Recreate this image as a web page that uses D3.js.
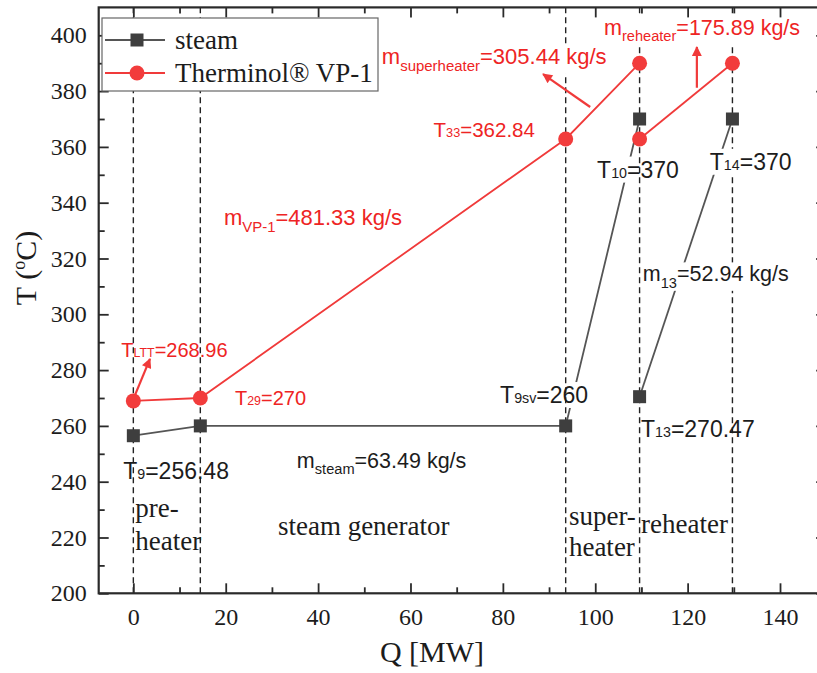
<!DOCTYPE html>
<html>
<head>
<meta charset="utf-8">
<script src="https://cdn.jsdelivr.net/npm/d3@7"></script>
<style>
  body { margin: 0; background: #fff; }
  svg { display: block; }
</style>
</head>
<body>
<div id="chart"></div>
<script>
// data
var steamQ = [0, 14.5, 93.6, 109.6];
var steamT = [256.48, 260, 260, 370];
var steam2Q = [109.6, 129.7];
var steam2T = [270.47, 370];

var vpQ = [0, 14.5, 93.6, 109.6];
var vpT = [268.96, 270, 362.84, 390];
var vp2Q = [109.6, 129.7];
var vp2T = [362.84, 390];

var stageQ = [0, 14.5, 93.6, 109.6, 129.7];

var xMajor = [0, 20, 40, 60, 80, 100, 120, 140];
var xMinor = [10, 30, 50, 70, 90, 110, 130, 150];
var yMajor = [200, 220, 240, 260, 280, 300, 320, 340, 360, 380, 400];
var yMinor = [210, 230, 250, 270, 290, 310, 330, 350, 370, 390];

var red = "#f03a3a";
var redText = "#ee2424";
var grey = "#555";
var dark = "#1c1c1c";

// annotations: [x, y (baseline), main, sub, rest, colour, size, sub lowered?, background layer]
var notes = [
    [-2.6, 284.8, "T", "LTT", "=268.96", redText, 20, false, null],
    [22.0, 267.6, "T", "29", "=270", redText, 20, false, null],
    [65.0, 363.4, "T", "33", "=362.84", redText, 20.5, false, null],
    [19.6, 332.0, "m", "VP-1", "=481.33 kg/s", redText, 22, true, null],
    [53.8, 389.6, "m", "superheater", "=305.44 kg/s", redText, 22, true, "over"],
    [101.9, 400.2, "m", "reheater", "=175.89 kg/s", redText, 21.5, true, "over"],
    [-2.2, 240.8, "T", "9", "=256.48", dark, 23, false, null],
    [35.4, 245.0, "m", "steam", "=63.49 kg/s", dark, 21.5, true, null],
    [79.4, 268.2, "T", "9sv", "=260", dark, 23, false, "under"],
    [100.4, 349.0, "T", "10", "=370", dark, 23, false, "under"],
    [109.9, 256.0, "T", "13", "=270.47", dark, 23, false, null],
    [124.8, 351.8, "T", "14", "=370", dark, 23, false, "over"],
    [110.3, 311.8, "m", "13", "=52.94 kg/s", dark, 21.5, true, "over"]
];

var regions = [
    [0.4, 227.3, "pre-"],
    [0.4, 215.6, "heater"],
    [31.3, 221.0, "steam generator"],
    [94.3, 224.6, "super-"],
    [94.3, 213.4, "heater"],
    [109.9, 221.7, "reheater"]
];

// arrows: [x0, y0, x1, y1]
var arrows = [
    [0.4, 271.2, 3.6, 284.0],
    [98.9, 374.3, 88.7, 386.1],
    [122.0, 381.2, 122.0, 395.8]
];

var svgWidth = 817;
var svgHeight = 673;

var svg = d3.select("#chart")
    .append("svg")
    .attr("width", svgWidth)
    .attr("height", svgHeight);

var xScale = d3.scaleLinear().domain([-7.5, 150]).range([98.7, 826.2]);
var yScale = d3.scaleLinear().domain([200, 410]).range([593.3, 7.4]);

var serif = "'Liberation Serif', 'Times New Roman', serif";
var sans = "'Liberation Sans', Arial, sans-serif";

svg.append("defs").append("marker")
    .attr("id", "head")
    .attr("viewBox", "0 0 10 10")
    .attr("refX", 9).attr("refY", 5)
    .attr("markerWidth", 5.5).attr("markerHeight", 4.5)
    .attr("markerUnits", "strokeWidth")
    .attr("orient", "auto")
    .append("path")
    .attr("d", "M0,0 L10,5 L0,10 z")
    .attr("fill", red);

var gLines = svg.append("g");
var gUnder = svg.append("g");
var gDash = svg.append("g");
var gOver = svg.append("g");
var gMarks = svg.append("g");
var gText = svg.append("g");

var line = d3.line().x(d => xScale(d[0])).y(d => yScale(d[1]));

function pairs(qs, ts) {
    return qs.map((q, i) => [q, ts[i]]);
}

[[steamQ, steamT, grey], [steam2Q, steam2T, grey], [vpQ, vpT, red], [vp2Q, vp2T, red]].forEach(function (s) {
    gLines.append("path")
        .attr("d", line(pairs(s[0], s[1])))
        .attr("fill", "none")
        .attr("stroke", s[2])
        .attr("stroke-width", 1.8);
});

gDash.selectAll("line")
    .data(stageQ)
    .enter()
    .append("line")
    .attr("x1", d => xScale(d))
    .attr("x2", d => xScale(d))
    .attr("y1", yScale(200))
    .attr("y2", yScale(410))
    .attr("stroke", "#222")
    .attr("stroke-width", 1.4)
    .attr("stroke-dasharray", "6,4");

// markers
var steamPts = pairs(steamQ, steamT).concat(pairs(steam2Q, steam2T));
var vpPts = pairs(vpQ, vpT).concat(pairs(vp2Q, vp2T));

gMarks.selectAll("rect")
    .data(steamPts)
    .enter()
    .append("rect")
    .attr("x", d => xScale(d[0]) - 6.5)
    .attr("y", d => yScale(d[1]) - 6.5)
    .attr("width", 13)
    .attr("height", 13)
    .attr("fill", "#3e3e3e");

gMarks.selectAll("circle")
    .data(vpPts)
    .enter()
    .append("circle")
    .attr("cx", d => xScale(d[0]))
    .attr("cy", d => yScale(d[1]))
    .attr("r", 7.5)
    .attr("fill", "#f23c3c");

gMarks.selectAll("line")
    .data(arrows)
    .enter()
    .append("line")
    .attr("x1", d => xScale(d[0]))
    .attr("y1", d => yScale(d[1]))
    .attr("x2", d => xScale(d[2]))
    .attr("y2", d => yScale(d[3]))
    .attr("stroke", red)
    .attr("stroke-width", 2.2)
    .attr("marker-end", "url(#head)");

// annotation texts
notes.forEach(function (n) {
    var t = gText.append("text")
        .attr("x", xScale(n[0]))
        .attr("y", yScale(n[1]))
        .attr("font-family", sans)
        .attr("font-size", n[6])
        .attr("fill", n[5]);
    var shift = n[7] ? n[6] * 0.3 : 0;
    t.append("tspan").text(n[2]);
    t.append("tspan").attr("font-size", n[6] * (n[7] ? 0.68 : 0.62)).attr("dy", shift).text(n[3]);
    t.append("tspan").attr("dy", -shift).text(n[4]);
    if (n[8]) {
        var bb = t.node().getBBox();
        (n[8] === "over" ? gOver : gUnder).append("rect")
            .attr("x", bb.x - 2).attr("y", bb.y)
            .attr("width", bb.width + 4).attr("height", bb.height)
            .attr("fill", "#fff");
    }
});

gText.selectAll(".region")
    .data(regions)
    .enter()
    .append("text")
    .attr("class", "region")
    .attr("x", d => xScale(d[0]))
    .attr("y", d => yScale(d[1]))
    .attr("font-family", serif)
    .attr("font-size", 27)
    .attr("fill", dark)
    .text(d => d[2]);

// axes, ticks inward on all four sides
var gAxes = svg.append("g");

function styleAxis(g) {
    g.select(".domain").remove();
    g.selectAll("line").attr("stroke", "#2a2a2a").attr("stroke-width", 1.8);
    g.selectAll("text").attr("font-family", serif).attr("font-size", 24).attr("fill", dark);
}

gAxes.append("g")
    .attr("transform", `translate(0, ${yScale(200)})`)
    .call(d3.axisBottom(xScale).tickValues(xMajor).tickSize(-10).tickPadding(15).tickFormat(d3.format("d")))
    .call(styleAxis);
gAxes.append("g")
    .attr("transform", `translate(0, ${yScale(200)})`)
    .call(d3.axisBottom(xScale).tickValues(xMinor).tickSize(-6).tickFormat(""))
    .call(styleAxis);
gAxes.append("g")
    .attr("transform", `translate(0, ${yScale(410)})`)
    .call(d3.axisTop(xScale).tickValues(xMajor.concat([150])).tickSize(-10).tickFormat(""))
    .call(styleAxis);
gAxes.append("g")
    .attr("transform", `translate(0, ${yScale(410)})`)
    .call(d3.axisTop(xScale).tickValues(xMinor).tickSize(-6).tickFormat(""))
    .call(styleAxis);
gAxes.append("g")
    .attr("transform", `translate(${xScale(-7.5)}, 0)`)
    .call(d3.axisLeft(yScale).tickValues(yMajor).tickSize(-10).tickPadding(12))
    .call(styleAxis);
gAxes.append("g")
    .attr("transform", `translate(${xScale(-7.5)}, 0)`)
    .call(d3.axisLeft(yScale).tickValues(yMinor).tickSize(-6).tickFormat(""))
    .call(styleAxis);
gAxes.append("g")
    .attr("transform", `translate(${xScale(150)}, 0)`)
    .call(d3.axisRight(yScale).tickValues(yMajor).tickSize(-10).tickFormat(""))
    .call(styleAxis);
gAxes.append("g")
    .attr("transform", `translate(${xScale(150)}, 0)`)
    .call(d3.axisRight(yScale).tickValues(yMinor).tickSize(-6).tickFormat(""))
    .call(styleAxis);

gAxes.append("rect")
    .attr("x", xScale(-7.5))
    .attr("y", yScale(410))
    .attr("width", xScale(150) - xScale(-7.5))
    .attr("height", yScale(200) - yScale(410))
    .attr("fill", "none")
    .attr("stroke", "#2a2a2a")
    .attr("stroke-width", 2.2);

svg.append("text")
    .attr("x", 432)
    .attr("y", 662)
    .attr("text-anchor", "middle")
    .attr("font-family", serif)
    .attr("font-size", 30)
    .attr("fill", dark)
    .text("Q [MW]");

var yt = svg.append("text")
    .attr("transform", "translate(36, 268) rotate(-90)")
    .attr("text-anchor", "middle")
    .attr("font-family", serif)
    .attr("font-size", 30)
    .attr("fill", dark);
yt.append("tspan").text("T (");
yt.append("tspan").attr("font-size", 18).attr("dy", -11).text("o");
yt.append("tspan").attr("dy", 11).text("C)");

// legend
var legend = svg.append("g").attr("transform", "translate(102, 18)");
legend.append("rect")
    .attr("width", 276).attr("height", 73)
    .attr("fill", "#fff")
    .attr("stroke", "#666").attr("stroke-width", 1.2);

var legendItems = [["steam", grey, "square"], ["Therminol® VP-1", red, "circle"]];
legendItems.forEach(function (d, i) {
    var cy = 22 + i * 33;
    legend.append("line")
        .attr("x1", 3).attr("x2", 63)
        .attr("y1", cy).attr("y2", cy)
        .attr("stroke", d[1]).attr("stroke-width", 1.8);
    if (d[2] === "square") {
        legend.append("rect").attr("x", 28.5).attr("y", cy - 6.5).attr("width", 13).attr("height", 13).attr("fill", "#3e3e3e");
    } else {
        legend.append("circle").attr("cx", 35).attr("cy", cy).attr("r", 7.5).attr("fill", "#f23c3c");
    }
    legend.append("text")
        .attr("x", 73).attr("y", cy + 9)
        .attr("font-family", serif)
        .attr("font-size", 27)
        .attr("fill", dark)
        .text(d[0]);
});
</script>
</body>
</html>
